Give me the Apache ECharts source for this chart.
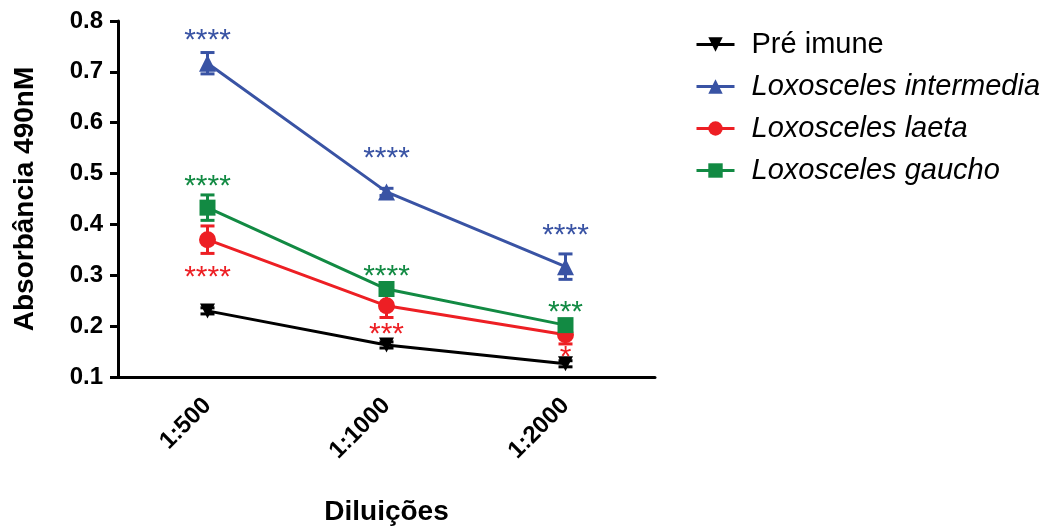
<!DOCTYPE html>
<html><head>
<meta charset="utf-8">
<title>Absorbância 490nM</title>
<script src="https://cdn.jsdelivr.net/npm/echarts@6/dist/echarts.min.js"></script>
<style>body{margin:0;background:#fff}#main{width:1054px;height:526px}</style>
</head>
<body>
<div id="main"></div>
<script type="text/javascript">
var diluicoes = ['1:500', '1:1000', '1:2000'];

var preImune = [0.230, 0.163, 0.126];
var preImuneErr = [0.006, 0.006, 0.006];
var intermedia = [0.717, 0.464, 0.317];
var intermediaErr = [0.021, 0.007, 0.025];
var laeta = [0.370, 0.240, 0.183];
var laetaErr = [0.027, 0.023, 0.018];
var gaucho = [0.433, 0.273, 0.202];
var gauchoErr = [0.025, 0.006, 0.006];

// asteriscos de significância: [índice, posição y, texto]
var sigIntermedia = [[0, 0.761, '****'], [1, 0.529, '****'], [2, 0.378, '****']];
var sigLaeta = [[0, 0.295, '****'], [1, 0.183, '***'], [2, 0.137, '*']];
var sigGaucho = [[0, 0.474, '****'], [1, 0.297, '****'], [2, 0.226, '***']];

var cores = {pre: '#000000', inter: '#3953a4', laeta: '#ed1f24', gaucho: '#128a43'};
var fonte = 'Liberation Sans, Arial, sans-serif';

function barras(valores, erros) {
    var arr = [];
    for (var i = 0; i < valores.length; i++) {
        arr.push([i, valores[i] - erros[i], valores[i] + erros[i]]);
    }
    return arr;
}

function desenhaErro(params, api) {
    var top = api.coord([api.value(0), api.value(2)]);
    var bot = api.coord([api.value(0), api.value(1)]);
    var w = 7;
    var st = {stroke: api.visual('color'), lineWidth: 3};
    return {type: 'group', children: [
        {type: 'line', shape: {x1: top[0], y1: top[1], x2: bot[0], y2: bot[1]}, style: st},
        {type: 'line', shape: {x1: top[0] - w, y1: top[1], x2: top[0] + w, y2: top[1]}, style: st},
        {type: 'line', shape: {x1: bot[0] - w, y1: bot[1], x2: bot[0] + w, y2: bot[1]}, style: st}
    ]};
}

var sigTexto = {sI: sigIntermedia, sL: sigLaeta, sG: sigGaucho};
function desenhaSig(params, api) {
    var p = api.coord([api.value(0), api.value(1)]);
    return {type: 'text', x: p[0], y: p[1], style: {
        text: sigTexto[params.seriesName][params.dataIndex][2],
        fill: api.visual('color'), font: '30px ' + fonte,
        align: 'center', verticalAlign: 'middle'
    }};
}

function linha(nome, dados, cor, simbolo, tam) {
    return {name: nome, type: 'line', data: dados, color: cor, symbol: simbolo, symbolSize: tam,
        lineStyle: {width: 3, color: cor}, itemStyle: {color: cor}, z: 3};
}
function erro(nome, v, e, cor) {
    return {name: nome, type: 'custom', data: barras(v, e), color: cor, renderItem: desenhaErro, z: 2};
}
function sig(nome, arr, cor) {
    return {name: nome, type: 'custom', data: arr.map(function (d) { return [d[0], d[1]]; }),
        color: cor, renderItem: desenhaSig, z: 4};
}

var myChart = echarts.init(document.getElementById('main'));

var option = {
    backgroundColor: '#fff',
    animation: false,
    grid: {left: 118, right: 399, top: 21, bottom: 149, outerBoundsMode: 'none'},
    legend: {
        orient: 'vertical', left: 690, top: 25,
        data: ['Pré imune', 'Loxosceles intermedia', 'Loxosceles laeta', 'Loxosceles gaucho'],
        itemWidth: 38, itemHeight: 18, itemGap: 13,
        lineStyle: {width: 3},
        textStyle: {
            color: '#000', fontSize: 29, fontFamily: fonte, padding: [0, 0, 0, 12],
            rich: {i: {fontStyle: 'italic', fontSize: 29, fontFamily: fonte, color: '#000'}}
        },
        formatter: function (n) { return n === 'Pré imune' ? n : '{i|' + n + '}'; }
    },
    xAxis: {
        type: 'category', data: diluicoes, boundaryGap: true,
        name: 'Diluições', nameLocation: 'middle', nameGap: 121,
        nameTextStyle: {fontSize: 28, fontWeight: 'bold', fontFamily: fonte, color: '#000'},
        axisLine: {lineStyle: {color: '#000', width: 3}},
        axisTick: {alignWithLabel: true, length: 8, lineStyle: {color: '#000', width: 3}},
        axisLabel: {rotate: 45, margin: 25, fontSize: 24, fontWeight: 'bold', fontFamily: fonte, color: '#000'}
    },
    yAxis: {
        type: 'value', min: 0.1, max: 0.8, interval: 0.1,
        name: 'Absorbância 490nM', nameLocation: 'middle', nameGap: 79,
        nameTextStyle: {fontSize: 28, fontWeight: 'bold', fontFamily: fonte, color: '#000'},
        splitLine: {show: false},
        axisLine: {show: true, lineStyle: {color: '#000', width: 3}},
        axisTick: {show: true, length: 8, lineStyle: {color: '#000', width: 3}},
        axisLabel: {margin: 15, fontSize: 24, fontWeight: 'bold', fontFamily: fonte, color: '#000',
            formatter: function (v) { return v.toFixed(1); }}
    },
    series: [
        erro('ePre', preImune, preImuneErr, cores.pre),
        erro('eI', intermedia, intermediaErr, cores.inter),
        erro('eL', laeta, laetaErr, cores.laeta),
        erro('eG', gaucho, gauchoErr, cores.gaucho),
        linha('Pré imune', preImune, cores.pre, 'path://M0,0 L10,0 L5,9 Z', 15),
        linha('Loxosceles intermedia', intermedia, cores.inter, 'triangle', 17),
        linha('Loxosceles laeta', laeta, cores.laeta, 'circle', 17),
        linha('Loxosceles gaucho', gaucho, cores.gaucho, 'rect', 16),
        sig('sI', sigIntermedia, cores.inter),
        sig('sL', sigLaeta, cores.laeta),
        sig('sG', sigGaucho, cores.gaucho)
    ]
};
myChart.setOption(option);
</script>
</body>
</html>
